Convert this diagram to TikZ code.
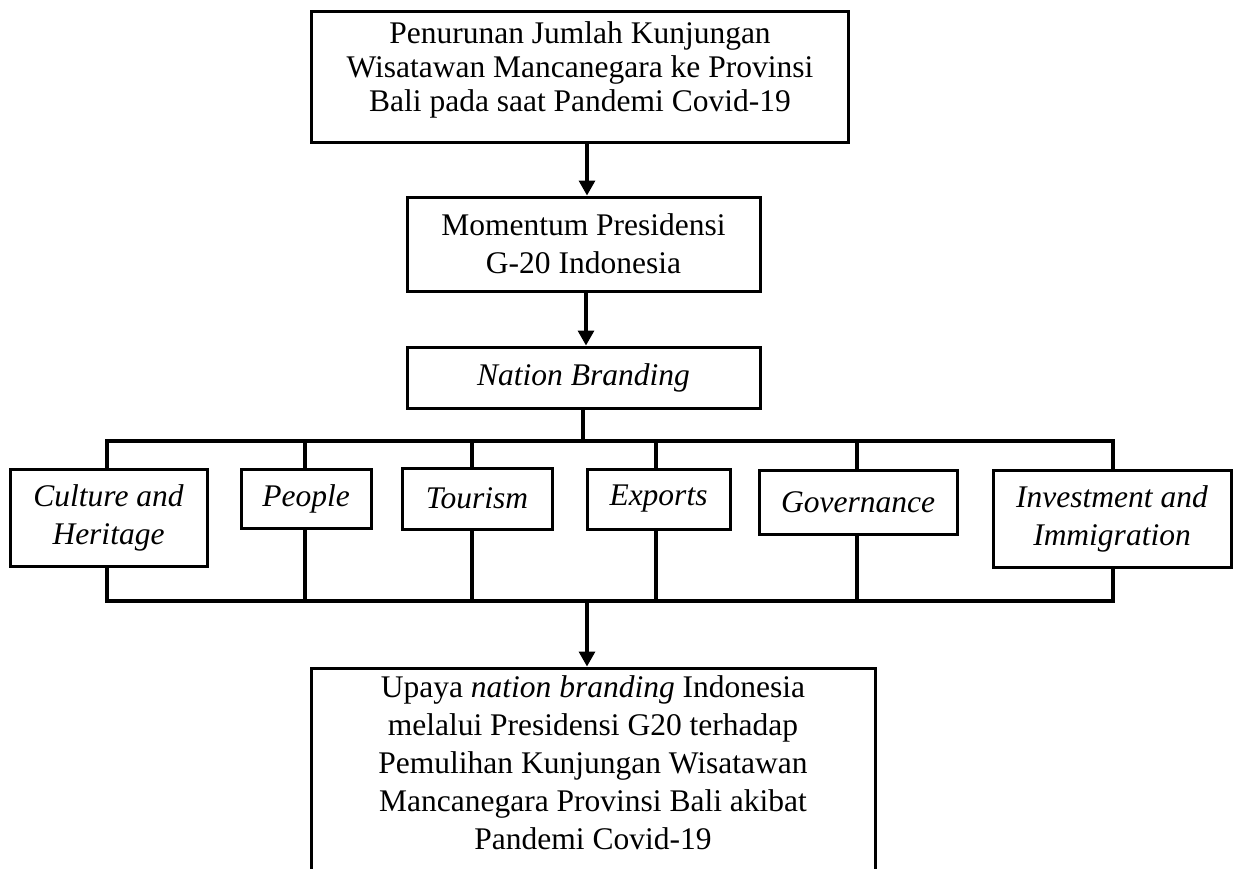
\documentclass[tikz,border=0pt]{standalone}
\usepackage{fontspec}
\setmainfont{Liberation Serif}
\usetikzlibrary{arrows.meta}
\begin{document}
\begin{tikzpicture}[x=1pt,y=-1pt,
  box/.style={draw, line width=3pt, align=center, inner sep=0pt,
    font=\fontsize{31.5}{38}\selectfont},
  txt/.style={align=center, inner sep=0pt, font=\fontsize{31.5}{38}\selectfont},
  wire/.style={line width=3.2pt, line join=miter},
  arr/.style={wire, -{Triangle[length=15pt,width=16pt]}}]
\useasboundingbox (0,0) rectangle (1233,868);
\begin{scope}
\clip (0,0) rectangle (1233,868);
\node[box, minimum width=537pt, minimum height=131pt] (top) at (579.5,76.5) {};
\node[txt, font=\fontsize{31.5}{34}\selectfont] (toptxt) at (580,70)
  {Penurunan Jumlah Kunjungan\\Wisatawan Mancanegara ke Provinsi\\Bali pada saat Pandemi Covid-19};
\node[box, minimum width=353pt, minimum height=94pt] (mom) at (583.5,244)
  {Momentum Presidensi\\G-20 Indonesia};
\node[box, minimum width=353pt, minimum height=61pt] (nb) at (583.5,377.5)
  {\itshape Nation Branding};
\node[box, minimum width=197pt, minimum height=97pt] (cul) at (108.5,517.5)
  {\itshape Culture and\\\itshape Heritage};
\node[box, minimum width=130pt, minimum height=59pt] (peo) at (306,498.5)
  {\itshape People};
\node[box, minimum width=150pt, minimum height=61pt] (tou) at (477,498.5)
  {\itshape Tourism};
\node[box, minimum width=143pt, minimum height=60pt] (exp) at (658.5,499)
  {\itshape Exports};
\node[box, minimum width=198pt, minimum height=64pt] (gov) at (858,502)
  {\itshape Governance};
\node[box, minimum width=238pt, minimum height=97pt] (inv) at (1112,518.5)
  {\itshape Investment and\\\itshape Immigration};
\node[box, minimum width=564pt, minimum height=224pt] (res) at (593,780) {};
\node[txt] (restxt) at (593,763)
  {Upaya \textit{nation branding} Indonesia\\melalui Presidensi G20 terhadap\\Pemulihan Kunjungan Wisatawan\\Mancanegara Provinsi Bali akibat\\Pandemi Covid-19};
% arrows
\coordinate (a1) at (587,0);
\draw[arr] (a1 |- top.south) -- (a1 |- mom.north);
\coordinate (a2) at (586,0);
\draw[arr] (a2 |- mom.south) -- (a2 |- nb.north);
% top bus
\coordinate (tbL) at (107,441);
\coordinate (tbR) at (1113,441);
\coordinate (tbN) at (583,441);
\draw[wire] (tbN |- nb.south) -- (tbN);
\draw[wire] (tbL |- cul.north) -- (tbL) -- (tbR) -- (tbR |- inv.north);
\coordinate (t2) at (305,441);
\coordinate (t3) at (472,441);
\coordinate (t4) at (656,441);
\coordinate (t5) at (857,441);
\draw[wire] (t2) -- (t2 |- peo.north);
\draw[wire] (t3) -- (t3 |- tou.north);
\draw[wire] (t4) -- (t4 |- exp.north);
\draw[wire] (t5) -- (t5 |- gov.north);
% bottom bus
\coordinate (bbL) at (107,601);
\coordinate (bbR) at (1113,601);
\coordinate (bbA) at (587,601);
\draw[wire] (bbL |- cul.south) -- (bbL) -- (bbR) -- (bbR |- inv.south);
\coordinate (b2) at (305,601);
\coordinate (b3) at (472,601);
\coordinate (b4) at (656,601);
\coordinate (b5) at (857,601);
\draw[wire] (b2) -- (b2 |- peo.south);
\draw[wire] (b3) -- (b3 |- tou.south);
\draw[wire] (b4) -- (b4 |- exp.south);
\draw[wire] (b5) -- (b5 |- gov.south);
\draw[arr] (bbA) -- (bbA |- res.north);
\end{scope}
\end{tikzpicture}
\end{document}
